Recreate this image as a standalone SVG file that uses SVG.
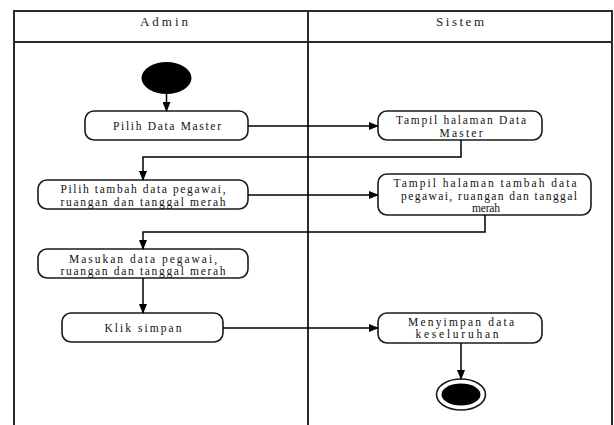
<svg xmlns="http://www.w3.org/2000/svg" width="614" height="425" viewBox="0 0 614 425">
<style>
.frame{fill:none;stroke:#2a2a2a;stroke-width:2}
.act{fill:#fff;stroke:#1a1a1a;stroke-width:1.6}
text{font-family:'Liberation Serif','DejaVu Serif',serif;fill:#111;text-anchor:middle}
.t{font-size:11.5px}
.h{font-size:13px;fill:#222}
.c{fill:none;stroke:#000;stroke-width:1.5}
</style>
<defs>
<marker id="arr" markerWidth="10" markerHeight="8" refX="9" refY="4" orient="auto" markerUnits="userSpaceOnUse">
<path d="M0,0 L10,4 L0,8 Z" fill="#000"/>
</marker>
</defs>
<g id="swimlanes">
<rect class="frame" x="14" y="11" width="598" height="420"/>
<line class="frame" x1="14" y1="42" x2="612" y2="42"/>
<line class="frame" x1="308" y1="11" x2="308" y2="425"/>
<text class="h" x="164" y="26" textLength="48" lengthAdjust="spacing">Admin</text>
<text class="h" x="460" y="26" textLength="48" lengthAdjust="spacing">Sistem</text>
</g>
<g id="start"><ellipse cx="166.5" cy="78" rx="25" ry="16" fill="#000"/></g>
<g id="pilih-data-master">
<rect class="act" x="85" y="111" width="163" height="29" rx="9"/>
<text class="t" x="167" y="130" textLength="108" lengthAdjust="spacing">Pilih Data Master</text>
</g>
<g id="tampil-data-master">
<rect class="act" x="378" y="111" width="164" height="29" rx="9"/>
<text class="t" x="461" y="124" textLength="130" lengthAdjust="spacing">Tampil halaman Data</text>
<text class="t" x="461" y="136.5" textLength="43" lengthAdjust="spacing">Master</text>
</g>
<g id="pilih-tambah">
<rect class="act" x="38" y="180" width="210" height="29" rx="9"/>
<text class="t" x="143" y="193" textLength="165" lengthAdjust="spacing">Pilih tambah data pegawai,</text>
<text class="t" x="143" y="205.5" textLength="165" lengthAdjust="spacing">ruangan dan tanggal merah</text>
</g>
<g id="tampil-tambah">
<rect class="act" x="378" y="174" width="213" height="41" rx="9"/>
<text class="t" x="485" y="187" textLength="183" lengthAdjust="spacing">Tampil halaman tambah data</text>
<text class="t" x="489" y="199.5" textLength="176" lengthAdjust="spacing">pegawai, ruangan dan tanggal</text>
<text class="t" x="486" y="212" textLength="28" lengthAdjust="spacing">merah</text>
</g>
<g id="masukan">
<rect class="act" x="38" y="249" width="210" height="29" rx="9"/>
<text class="t" x="143" y="262.5" textLength="148" lengthAdjust="spacing">Masukan data pegawai,</text>
<text class="t" x="143" y="275" textLength="165" lengthAdjust="spacing">ruangan dan tanggal merah</text>
</g>
<g id="klik-simpan">
<rect class="act" x="62" y="313" width="161" height="29" rx="9"/>
<text class="t" x="143" y="331.5" textLength="77" lengthAdjust="spacing">Klik simpan</text>
</g>
<g id="menyimpan">
<rect class="act" x="378" y="313" width="164" height="30" rx="9"/>
<text class="t" x="461" y="325.5" textLength="106" lengthAdjust="spacing">Menyimpan data</text>
<text class="t" x="457" y="338" textLength="83" lengthAdjust="spacing">keseluruhan</text>
</g>
<g id="end">
<ellipse cx="461" cy="394.5" rx="24.5" ry="15.5" fill="#fff" stroke="#1a1a1a" stroke-width="1.6"/>
<ellipse cx="461" cy="394.5" rx="19.5" ry="11" fill="#000"/>
</g>
<g id="connectors">
<path class="c" d="M166.5,94 L166.5,111" marker-end="url(#arr)"/>
<path class="c" d="M248,126 L378,126" marker-end="url(#arr)"/>
<path class="c" d="M461,140 L461,157 L143,157 L143,180" marker-end="url(#arr)"/>
<path class="c" d="M248,195 L378,195" marker-end="url(#arr)"/>
<path class="c" d="M485,215 L485,232 L143,232 L143,249" marker-end="url(#arr)"/>
<path class="c" d="M143,278 L143,313" marker-end="url(#arr)"/>
<path class="c" d="M223,328 L378,328" marker-end="url(#arr)"/>
<path class="c" d="M461,343 L461,379" marker-end="url(#arr)"/>
</g>
</svg>
